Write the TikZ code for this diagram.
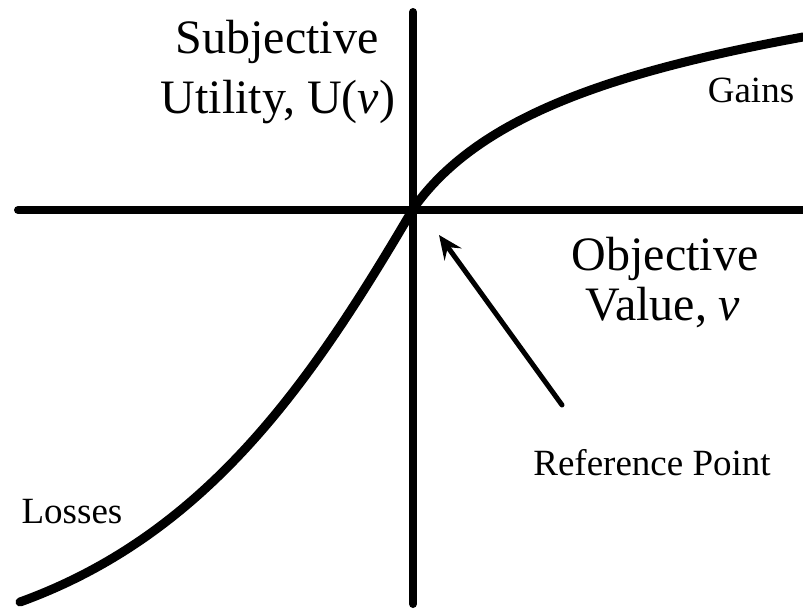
\documentclass[tikz,border=0pt]{standalone}
\usepackage{fontspec}
\setmainfont{Liberation Serif}
\usetikzlibrary{arrows.meta}
\begin{document}
\begin{tikzpicture}[x=1pt,y=-1pt,
  axis/.style={line width=8pt,line cap=round},
  curve/.style={line width=9pt,line cap=round},
  bigtxt/.style={font=\fontsize{48}{58}\selectfont,inner sep=0pt,anchor=base},
  smalltxt/.style={font=\fontsize{37}{44}\selectfont,inner sep=0pt,anchor=base},
  pointer/.style={line width=5pt,line cap=round,-{Stealth[length=24pt,width=21pt,inset=9pt]}}]
\useasboundingbox (0,0) rectangle (803,610);
\clip (0,0) rectangle (803,610);
% axes
\coordinate (ytop) at (413,12);
\coordinate (ybot) at (413,604);
\coordinate (xleft) at (18,210);
\coordinate (xright) at (820,210);
\coordinate (o) at (413,209);
\draw[axis] (ytop) -- (ybot);
\draw[axis] (xleft) -- (xright);
% value function
\coordinate (gainend) at (803,37);
\coordinate (lossend) at (20,602);
\draw[curve] (o) .. controls (476,119) and (606,73) .. (gainend);
\draw[curve] (o) .. controls (312,381) and (208,534) .. (lossend);
% labels
\node[bigtxt] (subj1) at (277,53) {Subjective};
\node[bigtxt] (subj2) at (278,113) {Utility, U(\textit{v})};
\node[bigtxt] (obj1) at (665,270) {Objective};
\node[bigtxt] (obj2) at (663,320) {Value, \textit{v}};
\node[smalltxt] (gains) at (751,102) {Gains};
\node[smalltxt] (losses) at (72,523) {Losses};
\node[smalltxt] (refpt) at (652,475) {Reference Point};
% arrow
\coordinate (arrtail) at (562,405);
\coordinate (arrtip) at (439,235);
\draw[pointer] (arrtail) -- (arrtip);
\end{tikzpicture}
\end{document}
